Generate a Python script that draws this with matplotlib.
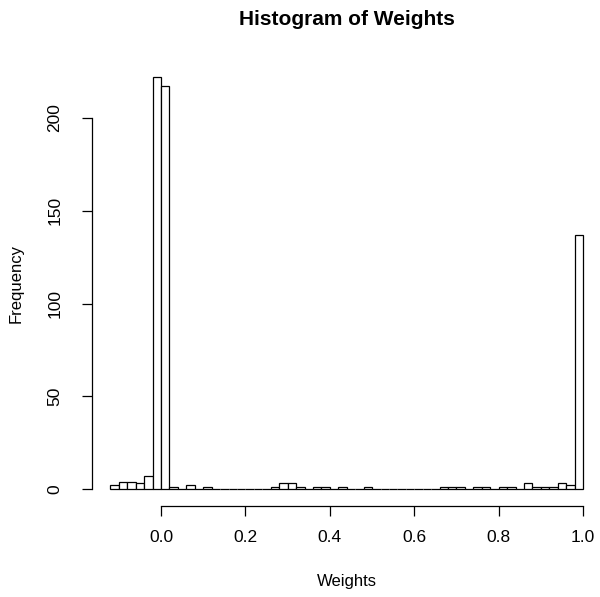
import numpy as np
import matplotlib
matplotlib.use("Agg")
import matplotlib.pyplot as plt

plt.rcParams['font.family'] = ['Liberation Sans', 'DejaVu Sans']

# bin edges (width 0.02) from -0.12 to 1.0, and counts
bin_start = -0.12
bin_width = 0.02
counts = [2, 4, 4, 3, 7, 222, 217, 1, 0, 2, 0, 1,     # -0.12 .. 0.12
          0, 0, 0, 0, 0, 0, 0, 1, 3, 3, 1, 0,         # 0.12 .. 0.36
          1, 1, 0, 1, 0, 0, 1, 0, 0, 0, 0, 0,         # 0.36 .. 0.60
          0, 0, 0, 1, 1, 1, 0, 1, 1, 0, 1, 1,         # 0.60 .. 0.84
          0, 3, 1, 1, 1, 3, 2, 137]                   # 0.84 .. 1.00
edges = bin_start + bin_width * np.arange(len(counts) + 1)

xticks = [0.0, 0.2, 0.4, 0.6, 0.8, 1.0]
yticks = [0, 50, 100, 150, 200]

W, H = 600, 597
fig = plt.figure(figsize=(W / 100, H / 100), dpi=100)
# plot region in pixels: left 91.5, right 602, top 60.7, bottom 505.5
left, right, top, bottom = 91.5, 602.0, 60.7, 505.5
ax = fig.add_axes([left / W, 1 - bottom / H, (right - left) / W, (bottom - top) / H])

ax.bar(edges[:-1], counts, width=bin_width, align='edge',
       color='white', edgecolor='black', linewidth=0.9)

# R-style axis extension of 4%
xr = edges[-1] - edges[0]
ax.set_xlim(edges[0] - 0.04 * xr, edges[-1] + 0.04 * xr)
ymax = max(counts)
ax.set_ylim(-0.04 * ymax, ymax * 1.04)

for s in ['top', 'right']:
    ax.spines[s].set_visible(False)
ax.spines['left'].set_bounds(yticks[0], yticks[-1])
ax.spines['bottom'].set_bounds(xticks[0], xticks[-1])
ax.spines['left'].set_linewidth(0.9)
ax.spines['bottom'].set_linewidth(0.9)

ax.set_xticks(xticks)
ax.set_xticklabels([f"{t:.1f}" for t in xticks])
ax.set_yticks(yticks)
ax.set_yticklabels([str(t) for t in yticks], rotation=90, va='center')
ax.tick_params(direction='out', length=7, width=0.9, labelsize=12.5)
ax.tick_params(axis='x', pad=11)
ax.tick_params(axis='y', pad=14)

cx = (left + right) / 2
cy = (top + bottom) / 2
fig.text(cx / W, 1 - 586 / H, "Weights", fontsize=12, ha='center', va='baseline')
fig.text(16.5 / W, 1 - cy / H, "Frequency", fontsize=12, ha='center', va='center',
         rotation=90)
fig.text(cx / W, 1 - 25 / H, "Histogram of Weights", fontsize=15, fontweight='bold',
         ha='center', va='baseline')

fig.savefig("out.png", dpi=100)
